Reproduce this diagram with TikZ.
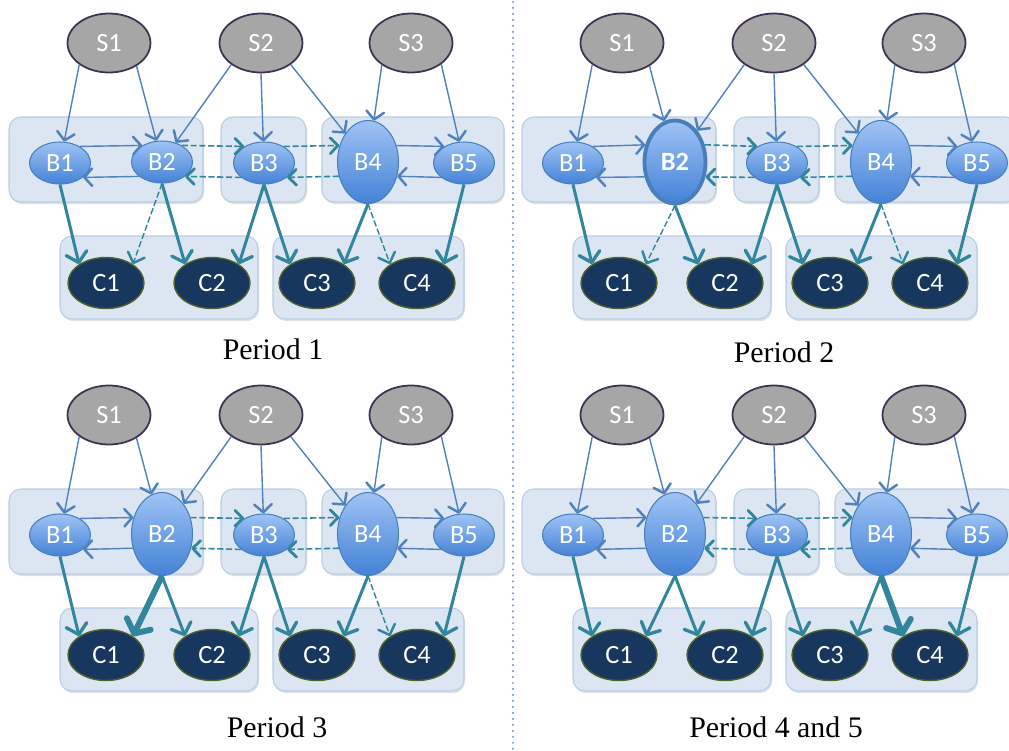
\documentclass[tikz,border=0pt]{standalone}
\usepackage{fontspec}
\usepackage{xcolor}
\usepackage{tikz}
\usetikzlibrary{arrows.meta,shapes.geometric,shadows}
\newfontfamily\nodefont{Carlito}
\newfontfamily\labelfont{Liberation Serif}
\definecolor{sgray}{HTML}{A6A6A6}
\definecolor{sborder}{HTML}{403152}
\definecolor{btop}{HTML}{9EC3F5}
\definecolor{bbottom}{HTML}{4482D6}
\definecolor{bborder}{HTML}{4A7EBB}
\definecolor{cnavy}{HTML}{17375E}
\definecolor{cborder}{HTML}{4F6228}
\definecolor{clusterfill}{HTML}{DCE6F2}
\definecolor{clusteredge}{HTML}{B9CDE5}
\definecolor{linkblue}{HTML}{4F81BD}
\definecolor{flowteal}{HTML}{31859C}
\definecolor{sepblue}{HTML}{7F9FCF}

\begin{document}
\begin{tikzpicture}[x=0.02cm,y=-0.02cm,
  seller/.style={ellipse,draw=sborder,line width=1pt,fill=sgray,minimum width=1.66cm,minimum height=1.18cm,inner sep=0pt,text=white,font=\nodefont\fontsize{15}{17}\selectfont},
  bsmall/.style={ellipse,draw=bborder,line width=0.6pt,top color=btop,bottom color=bbottom,minimum width=1.22cm,minimum height=0.84cm,inner sep=0pt,text=white,font=\nodefont\fontsize{15}{17}\selectfont},
  btall/.style={bsmall,minimum height=1.66cm},
  bbold/.style={btall,line width=2.2pt,font=\nodefont\fontsize{15}{17}\selectfont\bfseries},
  consumer/.style={ellipse,draw=cborder,line width=0.8pt,fill=cnavy,minimum width=1.52cm,minimum height=1.02cm,inner sep=0pt,text=white,font=\nodefont\fontsize{15}{17}\selectfont},
  cluster/.style={fill=clusterfill,draw=clusteredge,line width=0.6pt,rounded corners=0.24cm,drop shadow={opacity=0.25,shadow xshift=0.6pt,shadow yshift=-1.2pt}},
  feed/.style={linkblue,line width=0.8pt,-{Straight Barb[length=4.5pt,width=10pt,line width=1.4pt,round]}},
  relay/.style={flowteal,line width=0.9pt,dash pattern=on 3.5pt off 1.5pt,-{Straight Barb[length=4.5pt,width=9pt,line width=1.6pt,round]}},
  strong/.style={flowteal,line width=1.7pt,-{Straight Barb[length=5.5pt,width=12pt,line width=1.9pt,round]}},
  weak/.style={flowteal,line width=0.8pt,dash pattern=on 3.5pt off 1.5pt,-{Straight Barb[length=5pt,width=10pt,line width=1.4pt,round]}},
  heavy/.style={flowteal,line width=3.4pt,-{Straight Barb[length=6pt,width=15pt,round]}},
  periodlabel/.style={font=\labelfont\fontsize{17}{20}\selectfont},
  sepline/.style={sepblue,line width=1.4pt,line cap=round,dash pattern=on 0pt off 3.4pt}
]
  \useasboundingbox (0,0) rectangle (1009,751);

  % one panel per period
  \foreach \p/\ox/\oy/\btwo/\ua/\la/\bc/\dc in {a/0/0/bsmall/40/32/weak/weak, b/513/0/bbold/30/26/weak/weak, c/0/372/btall/30/26/heavy/weak, d/513/372/btall/30/26/strong/heavy}{
    \begin{scope}[shift={(\ox,\oy)}]
      \pgfmathtruncatemacro\ual{180-\ua}
      \pgfmathtruncatemacro\lal{180+\la}
      \pgfmathtruncatemacro\lar{360-\la}
      % markets
      \filldraw[cluster] (9,117) rectangle (203,202);
      \filldraw[cluster] (221,117) rectangle (306,202);
      \filldraw[cluster] (322,117) rectangle (504,202);
      \filldraw[cluster] (60,236) rectangle (258,319);
      \filldraw[cluster] (273,236) rectangle (464,319);
      % nodes
      \node[seller] (\p S1) at (109,43) {S1};
      \node[seller] (\p S2) at (261,43) {S2};
      \node[seller] (\p S3) at (411,43) {S3};
      \node[bsmall] (\p B1) at (60,163) {B1};
      \node[\btwo] (\p B2) at (162,162) {B2};
      \node[bsmall] (\p B3) at (264,163) {B3};
      \node[btall] (\p B4) at (368,162) {B4};
      \node[bsmall] (\p B5) at (464,163) {B5};
      \node[consumer] (\p C1) at (106,283) {C1};
      \node[consumer] (\p C2) at (212,283) {C2};
      \node[consumer] (\p C3) at (317,283) {C3};
      \node[consumer] (\p C4) at (417,283) {C4};
      % sellers to brokers
      \draw[feed] (\p S1.216) -- (\p B1);
      \draw[feed] (\p S1.320) -- (\p B2);
      \draw[feed] (\p S2.216) -- (\p B2);
      \draw[feed] (\p S2.south) -- (\p B3);
      \draw[feed] (\p S2.324) -- (\p B4);
      \draw[feed] (\p S3.217) -- (\p B4);
      \draw[feed] (\p S3.325) -- (\p B5);
      % between brokers
      \draw[feed] (\p B1.40) -- (\p B2.\ual);
      \draw[feed] (\p B2.\lal) -- (\p B1.328);
      \draw[relay] (\p B2.\ua) -- (\p B3.140);
      \draw[relay] (\p B3.212) -- (\p B2.\lar);
      \draw[relay] (\p B3.40) -- (\p B4.150);
      \draw[relay] (\p B4.206) -- (\p B3.328);
      \draw[feed] (\p B4.30) -- (\p B5.140);
      \draw[feed] (\p B5.212) -- (\p B4.334);
      % brokers to consumers
      \draw[strong] (\p B1.south) -- (\p C1.145);
      \draw[\bc] (\p B2.south) -- (\p C1.35);
      \draw[strong] (\p B2.south) -- (\p C2.145);
      \draw[strong] (\p B3.south) -- (\p C2.35);
      \draw[strong] (\p B3.south) -- (\p C3.145);
      \draw[strong] (\p B4.south) -- (\p C3.35);
      \draw[\dc] (\p B4.south) -- (\p C4.145);
      \draw[strong] (\p B5.south) -- (\p C4.35);
    \end{scope}
  }

  \draw[sepline] (513,2) -- (513,751);
  \node[periodlabel] (period1) at (273,349) {Period 1};
  \node[periodlabel] (period2) at (784,352) {Period 2};
  \node[periodlabel] (period3) at (277,727) {Period 3};
  \node[periodlabel] (period45) at (776,727) {Period 4 and 5};
\end{tikzpicture}
\end{document}
